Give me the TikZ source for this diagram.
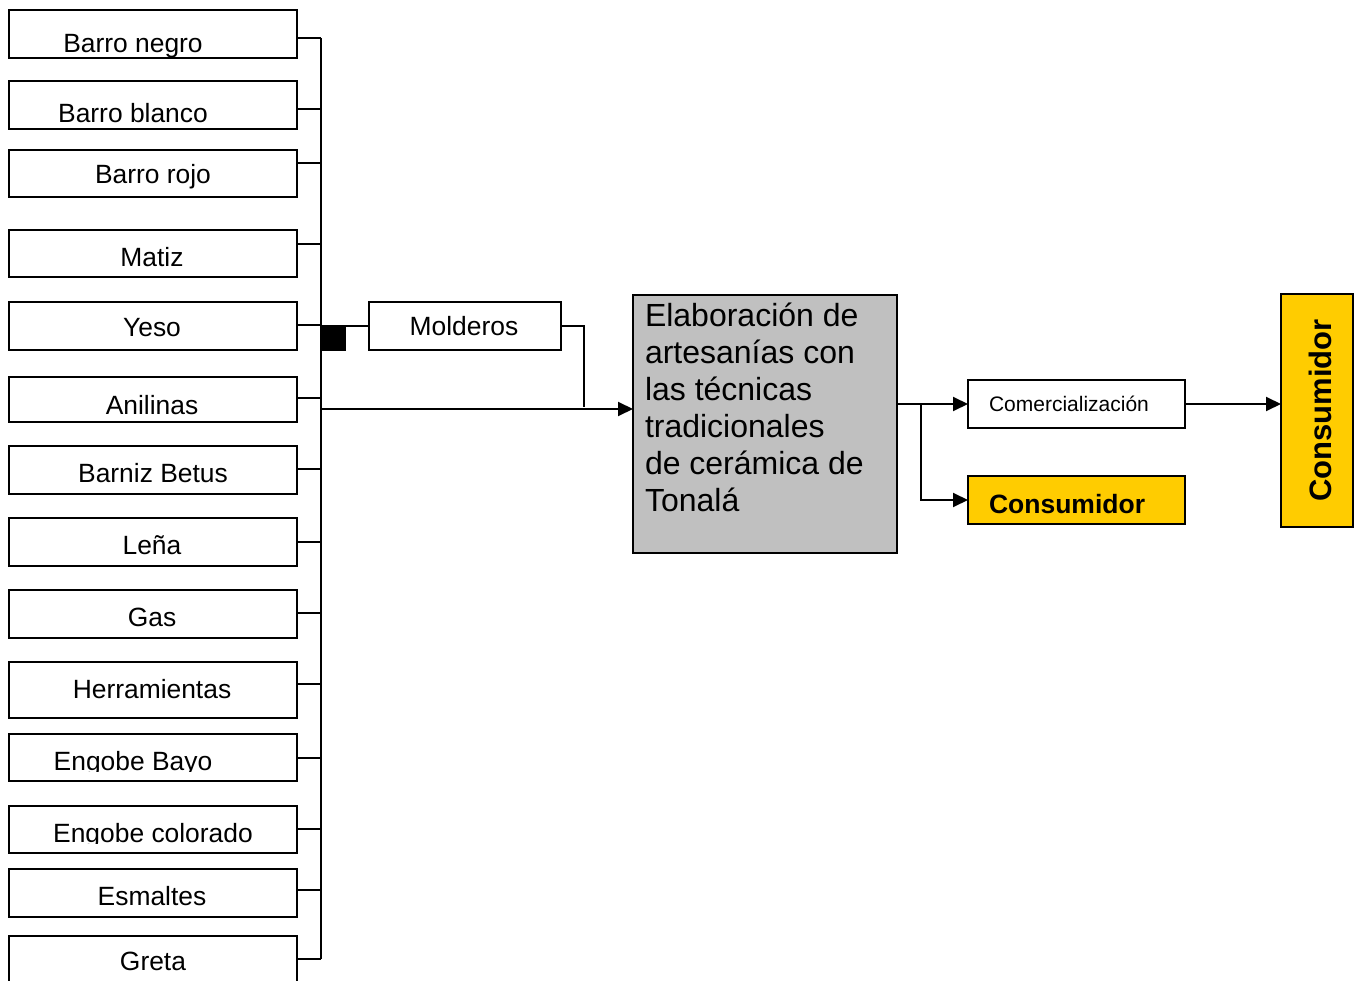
\documentclass[tikz,border=0pt]{standalone}
\usepackage{fontspec}
\setmainfont{Liberation Sans}
\usetikzlibrary{arrows.meta}
\definecolor{boxgray}{HTML}{C0C0C0}
\definecolor{gold}{HTML}{FFCC00}
\begin{document}
\begin{tikzpicture}[x=1pt,y=-1pt,
  every node/.style={inner sep=0pt, outer sep=0pt},
  inbox/.style={draw, line width=1.9pt, minimum width=288pt},
  lbl/.style={anchor=base, font=\fontsize{26.4}{30}\selectfont},
  wire/.style={line width=1.9pt},
  arr/.style={line width=1.9pt, -{Triangle[length=15pt,width=14pt]}},
]
\clip (0,0) rectangle (1360,981);
\fill[white] (0,0) rectangle (1360,981);

% input boxes
\node[inbox, minimum height=48pt] (b1) at (153,34) {};
\node[inbox, minimum height=48pt] (b2) at (153,105) {};
\node[inbox, minimum height=47pt] (b3) at (153,173.5) {};
\node[inbox, minimum height=47pt] (b4) at (153,253.5) {};
\node[inbox, minimum height=48pt] (b5) at (153,326) {};
\node[inbox, minimum height=45pt] (b6) at (153,399.5) {};
\node[inbox, minimum height=48pt] (b7) at (153,470) {};
\node[inbox, minimum height=48pt] (b8) at (153,542) {};
\node[inbox, minimum height=48pt] (b9) at (153,614) {};
\node[inbox, minimum height=56pt] (b10) at (153,690) {};
\node[inbox, minimum height=47pt] (b11) at (153,757.5) {};
\node[inbox, minimum height=47pt] (b12) at (153,829.5) {};
\node[inbox, minimum height=48pt] (b13) at (153,893) {};
\node[inbox, minimum height=64pt] (b14) at (153,968) {};

% labels
\node[lbl] (t1) at (133,53) {Barro negro};
\node[lbl] (t2) at (133,123) {Barro blanco};
\node[lbl] (t3) at (153,184) {Barro rojo};
\node[lbl] (t4) at (152,267) {Matiz};
\node[lbl] (t5) at (152,337) {Yeso};
\begin{scope}
  \clip (9,377) rectangle (297,414);
  \node[lbl] (t6) at (152,414) {Anilinas};
\end{scope}
\node[lbl] (t7) at (153,482) {Barniz Betus};
\node[lbl] (t8) at (152,554) {Leña};
\node[lbl] (t9) at (152,626) {Gas};
\node[lbl] (t10) at (152,698) {Herramientas};
\begin{scope}
  \clip (9,734) rectangle (297,771);
  \node[lbl] (t11) at (133,770) {Engobe Bayo};
\end{scope}
\begin{scope}
  \clip (9,806) rectangle (297,843);
  \node[lbl] (t12) at (153,842) {Engobe colorado};
\end{scope}
\node[lbl] (t13) at (152,905) {Esmaltes};
\node[lbl] (t14) at (153,970) {Greta};

% bus
\coordinate (bustop) at (321,38);
\coordinate (busbot) at (321,959);
\draw[wire] (bustop) -- (busbot);
\draw[wire] (b1.east |- 0,38) -- (bustop);
\draw[wire] (b2.east |- 0,109) -- (321,109);
\draw[wire] (b3.east |- 0,163) -- (321,163);
\draw[wire] (b4.east |- 0,244) -- (321,244);
\draw[wire] (b5.east |- 0,325) -- (321,325);
\draw[wire] (b6.east |- 0,398) -- (321,398);
\draw[wire] (b7.east |- 0,469) -- (321,469);
\draw[wire] (b8.east |- 0,542) -- (321,542);
\draw[wire] (b9.east |- 0,613) -- (321,613);
\draw[wire] (b10.east |- 0,684) -- (321,684);
\draw[wire] (b11.east |- 0,758) -- (321,758);
\draw[wire] (b12.east |- 0,829) -- (321,829);
\draw[wire] (b13.east |- 0,890) -- (321,890);
\draw[wire] (b14.east |- 0,959) -- (busbot);

% Molderos
\node[draw, line width=1.9pt, minimum width=192pt, minimum height=48pt] (mol) at (465,326) {};
\node[anchor=base, font=\fontsize{26.4}{30}\selectfont] (tmol) at (464,336) {Molderos};
\node[fill=black, minimum width=25pt, minimum height=25pt] (sq) at (333.5,338.5) {};
\draw[wire] (321,326) -- (mol.west);
\draw[wire] (mol.east) -| (584,407);

% main box
\node[draw, fill=boxgray, line width=1.9pt, minimum width=264pt, minimum height=258pt] (main) at (765,424) {};
\node[anchor=north west, align=left, font=\fontsize{32}{37}\selectfont] (tmain) at (645,303)
  {Elaboración de\\artesanías con\\las técnicas\\tradicionales\\de cerámica de\\Tonalá};
\draw[arr] (321,409) -- (main.west |- 0,409);

% right side
\node[draw, line width=1.9pt, minimum width=217pt, minimum height=48pt] (com) at (1076.5,404) {};
\node[anchor=base west, font=\fontsize{21}{25}\selectfont] (tcom) at (989,411) {Comercialización};
\node[draw, fill=gold, line width=1.9pt, minimum width=217pt, minimum height=48pt] (cons) at (1076.5,500) {};
\node[anchor=base west, font=\bfseries\fontsize{26.5}{30}\selectfont] (tcons) at (989,513) {Consumidor};
\node[draw, fill=gold, line width=1.9pt, minimum width=72pt, minimum height=233pt] (vert) at (1317,410.5) {};
\node[rotate=90, anchor=base, font=\bfseries\fontsize{31}{36}\selectfont] (tvert) at (1331,410.5) {Consumidor};

\coordinate (split) at (921,404);
\draw[arr] (main.east |- com.west) -- (com.west);
\draw[arr] (split) |- (cons.west);
\draw[arr] (com.east) -- (vert.west |- com.east);
\end{tikzpicture}
\end{document}
